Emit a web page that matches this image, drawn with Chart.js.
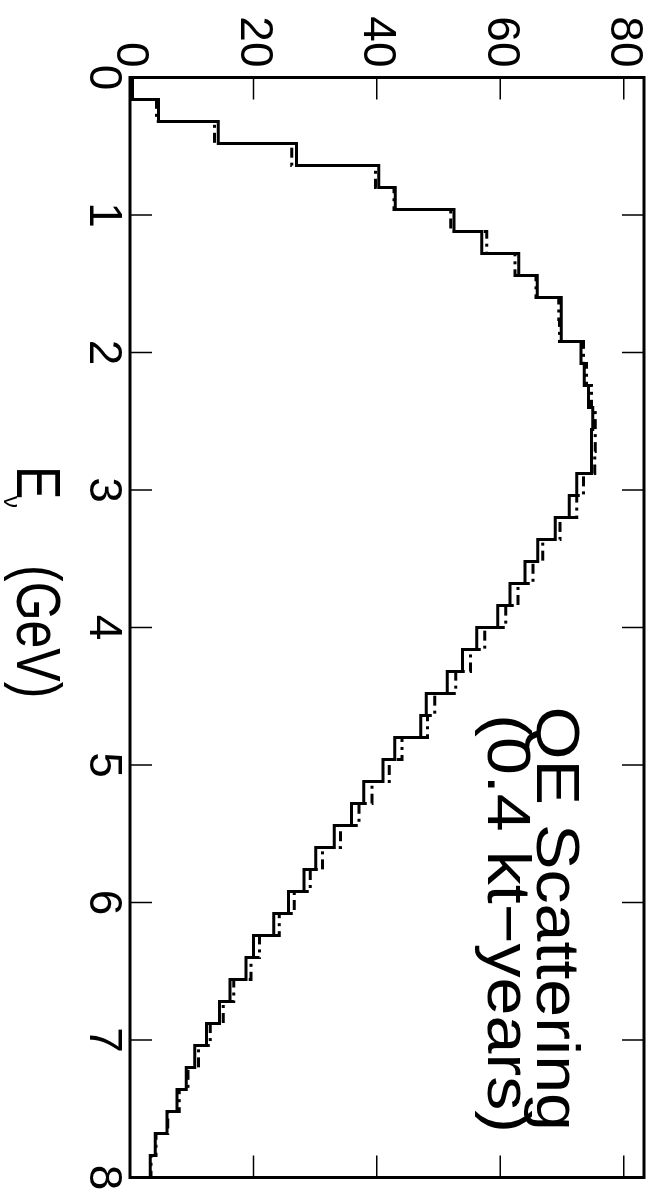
<!DOCTYPE html>
<html>
<head>
<meta charset="utf-8">
<script src="https://cdn.jsdelivr.net/npm/chart.js@4.4.1/dist/chart.umd.min.js"></script>
<style>
    html, body { margin: 0; padding: 0; background: #fff; overflow: hidden; }
    /* chart is drawn landscape, then turned a quarter clockwise */
    #wrap { position: absolute; left: 0; top: 0; width: 1192px; height: 651px; transform-origin: 0 0; transform: translateX(651px) rotate(90deg); }
</style>
</head>
<body>
<div id="wrap"><canvas id="qeChart" width="1192" height="651"></canvas></div>
<script>
// histogram bins, 0.16 GeV wide, 0 .. 8 GeV
const binWidth = 0.16;
const qeSolid = [
    0.4, 4.6, 14.3, 27.0, 40.3, 43.0, 52.5, 57.0, 63.0, 66.0,
    69.9, 69.9, 73.1, 73.6, 74.3, 75.0, 74.8, 74.8, 72.4, 71.2,
    68.9, 66.1, 64.0, 61.6, 59.6, 56.2, 53.9, 51.4, 48.0, 47.1,
    42.9, 41.0, 37.9, 35.9, 33.1, 30.1, 28.2, 25.7, 23.3, 20.0,
    18.8, 16.2, 14.5, 12.4, 10.5, 9.1, 7.6, 6.0, 4.1, 3.3
];
const qeDashed = [
    0.3, 4.3, 13.7, 26.2, 39.8, 42.8, 52.0, 57.8, 62.4, 65.8,
    69.5, 69.6, 73.5, 74.0, 74.8, 75.4, 75.4, 75.3, 73.5, 72.4,
    69.7, 66.9, 65.3, 62.9, 60.9, 57.5, 55.2, 52.8, 49.4, 48.2,
    44.1, 42.0, 39.2, 37.1, 34.1, 31.2, 29.2, 26.6, 24.2, 21.0,
    19.6, 16.8, 15.1, 13.0, 11.1, 9.4, 8.0, 6.1, 4.2, 3.4
];
const xTicks = [0, 1, 2, 3, 4, 5, 6, 7, 8];
const yTicks = [0, 20, 40, 60, 80];
const xMax = 8;
const yMax = 83.3;
const titleMain = 'E';
const titleSub = 'ν';
const titleUnit = '(GeV)';
const noteLines = ['QE Scattering', '(0.4 kt\u2212years)'];

const FONT = '"Liberation Sans", Arial, sans-serif';

function toSteps(values) {
    const pts = values.map((v, i) => ({ x: i * binWidth, y: v }));
    pts.push({ x: values.length * binWidth, y: values[values.length - 1] });
    return pts;
}

function stretchText(ctx, text, x, y, sx, sy) {
    ctx.save();
    ctx.translate(x, y);
    ctx.scale(sx, sy);
    ctx.fillText(text, 0, 0);
    ctx.restore();
}

const framePlugin = {
    id: 'frame',
    afterDraw(chart) {
        const { ctx, chartArea: a, scales: { x, y } } = chart;
        ctx.save();
        ctx.strokeStyle = '#000';
        ctx.lineWidth = 1.5;
        ctx.beginPath();
        xTicks.forEach(v => {
            const px = x.getPixelForValue(v);
            ctx.moveTo(px, a.bottom); ctx.lineTo(px, a.bottom - 22);
            ctx.moveTo(px, a.top); ctx.lineTo(px, a.top + 22);
        });
        yTicks.forEach(v => {
            const py = y.getPixelForValue(v);
            ctx.moveTo(a.left, py); ctx.lineTo(a.left + 22, py);
            ctx.moveTo(a.right, py); ctx.lineTo(a.right - 22, py);
        });
        ctx.stroke();
        ctx.lineWidth = 3;
        ctx.strokeRect(a.left, a.top, a.right - a.left, a.bottom - a.top);
        ctx.restore();
    }
};

const textPlugin = {
    id: 'texts',
    afterDraw(chart) {
        const ctx = chart.ctx;
        ctx.save();
        ctx.fillStyle = '#000';
        ctx.textBaseline = 'alphabetic';
        ctx.textAlign = 'left';
        ctx.font = '50px ' + FONT;
        stretchText(ctx, titleMain, 466, 634, 1, 1.25);
        ctx.font = '24px ' + FONT;
        stretchText(ctx, titleSub, 496, 647, 1, 1);
        ctx.font = '50px ' + FONT;
        stretchText(ctx, titleUnit, 565, 634, 1, 1.25);

        // note: right aligned, a little wide
        ctx.font = '62px ' + FONT;
        ctx.textAlign = 'right';
        stretchText(ctx, noteLines[0], 1131, 114, 1.1, 1);
        stretchText(ctx, noteLines[1], 1133, 163, 1.1, 1);
        ctx.restore();
    }
};

const tickFont = { family: FONT, size: 46 };

new Chart(document.getElementById('qeChart').getContext('2d'), {
    type: 'line',
    data: {
        datasets: [{
            label: 'dashed',
            data: toSteps(qeDashed),
            stepped: true,
            borderColor: '#000',
            borderWidth: 3,
            borderDash: [10, 5, 3, 5],
            pointRadius: 0,
            fill: false
        }, {
            label: 'solid',
            data: toSteps(qeSolid),
            stepped: true,
            borderColor: '#000',
            borderWidth: 3,
            pointRadius: 0,
            fill: false
        }]
    },
    options: {
        responsive: false,
        animation: false,
        devicePixelRatio: 1,
        layout: { padding: { left: 0, right: 14.5, top: 7, bottom: 0 } },
        plugins: { legend: { display: false }, tooltip: { enabled: false } },
        scales: {
            x: {
                type: 'linear', min: 0, max: xMax,
                grid: { display: false, drawTicks: false },
                border: { display: false },
                ticks: { color: '#000', font: tickFont, padding: 0, maxRotation: 0, autoSkip: false },
                afterBuildTicks: s => { s.ticks = xTicks.map(v => ({ value: v })); },
                afterFit: s => { s.height = 130; s.paddingLeft = 0; s.paddingRight = 0; }
            },
            y: {
                type: 'linear', min: 0, max: yMax,
                grid: { display: false, drawTicks: false },
                border: { display: false },
                ticks: { color: '#000', font: tickFont, padding: 10 },
                afterBuildTicks: s => { s.ticks = yTicks.map(v => ({ value: v })); },
                afterFit: s => { s.width = 77.5; s.paddingTop = 0; s.paddingBottom = 0; }
            }
        }
    },
    plugins: [framePlugin, textPlugin]
});
</script>
</body>
</html>
